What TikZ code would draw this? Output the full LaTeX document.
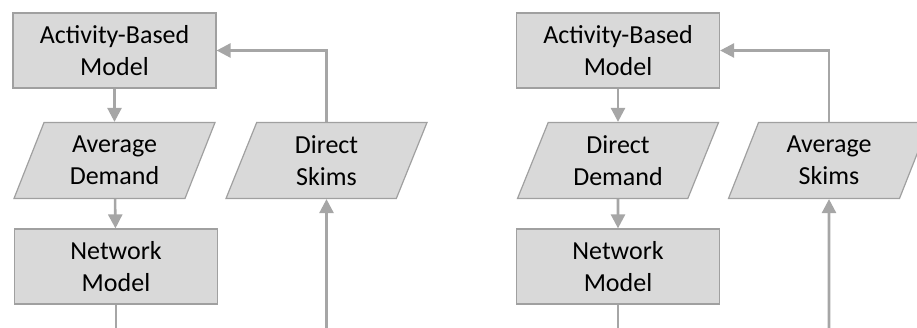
\documentclass[tikz,border=0pt]{standalone}
\usepackage{fontspec}
\setmainfont{Carlito}
\usetikzlibrary{arrows.meta,shapes.geometric}

\definecolor{boxfill}{HTML}{D9D9D9}
\definecolor{boxline}{HTML}{A0A0A0}
\definecolor{flowline}{HTML}{A6A6A6}

\tikzset{
    procbox/.style={draw=boxline, line width=1.2pt, fill=boxfill, rectangle,
        minimum width=203pt, minimum height=75pt, align=center,
        font=\fontsize{26}{32}\selectfont},
    databox/.style={draw=boxline, line width=1.2pt, fill=boxfill, trapezium,
        trapezium left angle=61.6, trapezium right angle=118.4,
        trapezium stretches body, minimum width=201pt, minimum height=76pt,
        inner xsep=2pt, align=center, font=\fontsize{26}{32}\selectfont},
    flow/.style={draw=flowline, line width=2.6pt, -{Triangle[length=14pt,width=14pt]}},
    feed/.style={draw=flowline, line width=2.6pt}
}

\begin{document}
\begin{tikzpicture}[x=1pt, y=-1pt]
    \useasboundingbox (0,0) rectangle (917,328);

    % left: average demand, direct skims
    \node (abmA) [procbox] at (114.5,50.5) {Activity-Based\\Model};
    \node (demA) [databox] at (114.5,160.5) {Average\\Demand};
    \node (netA) [procbox] at (116,266.5) {Network\\Model};
    \node (skmA) [databox] at (326.5,160.5) {Direct\\Skims};
    \coordinate (botA) at (116,330);
    \coordinate (inA) at (326.5,330);

    \draw[flow] (abmA) -- (demA);
    \draw[flow] (demA) -- (netA);
    \draw[feed] (netA) -- (botA);
    \draw[flow] (inA) -- (skmA);
    \draw[flow] (skmA.north) |- (abmA.east);

    % right: direct demand, average skims
    \node (abmB) [procbox] at (618,50.5) {Activity-Based\\Model};
    \node (demB) [databox] at (618,160.5) {Direct\\Demand};
    \node (netB) [procbox] at (618,266.5) {Network\\Model};
    \node (skmB) [databox] at (829,160.5) {Average\\Skims};
    \coordinate (botB) at (618,330);
    \coordinate (inB) at (829,330);

    \draw[flow] (abmB) -- (demB);
    \draw[flow] (demB) -- (netB);
    \draw[feed] (netB) -- (botB);
    \draw[flow] (inB) -- (skmB);
    \draw[flow] (skmB.north) |- (abmB.east);
\end{tikzpicture}
\end{document}
